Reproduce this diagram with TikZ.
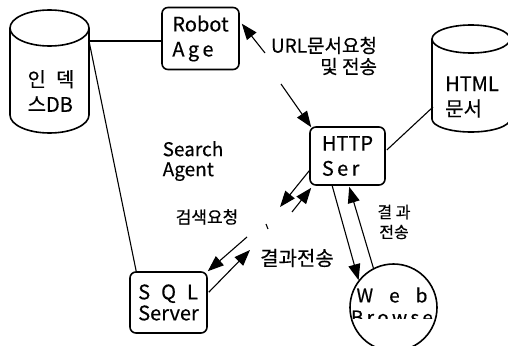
\documentclass[tikz,border=0pt]{standalone}
\usepackage{fontspec}
\setmainfont{Noto Sans CJK KR}[FakeBold=0.4]
\usetikzlibrary{arrows.meta, calc}

\tikzset{
  srvbox/.style={draw, line width=1.6pt, rounded corners=6pt, align=left, inner sep=2pt,
    font=\fontsize{20}{25}\selectfont, minimum width=77pt, minimum height=62pt},
  dbline/.style={line width=1.6pt},
  dbtext/.style={align=left, font=\fontsize{20}{25}\selectfont},
  conn/.style={line width=1.1pt},
  arr/.style={line width=1.1pt, -{Triangle[length=16pt,width=12pt]}},
  lbl/.style={inner sep=1pt}
}

\begin{document}
\begin{tikzpicture}[x=1pt,y=-1pt]
  \clip (0,0) rectangle (508,345);

  % index DB
  \draw[dbline] (10,28) -- (10,115) arc[start angle=180, end angle=0, x radius=39.5, y radius=18] -- (89,28);
  \draw[dbline] (49.5,28) ellipse [x radius=39.5, y radius=18];
  \node[dbtext] (indexdb) at (51,91) {인\hspace{10pt}덱\\스DB};
  \coordinate (dbjoint) at (89,41);

  % HTML documents
  \draw[dbline] (432,39) -- (432,119) arc[start angle=180, end angle=0, x radius=39, y radius=13] -- (510,39);
  \draw[dbline] (471,39) ellipse [x radius=39, y radius=14];
  \node[dbtext] (htmldoc) at (472,97) {HTML\\문서};
  \coordinate (htmljoint) at (433,107);

  % servers
  \node[srvbox] (robot) at (200.5,38.5) {Robot\\A\,g\,e};
  \node[srvbox, minimum width=75pt, minimum height=58pt] (http) at (347.5,156) {HTTP\\S\,e\,r};
  \node[srvbox, minimum height=61pt, font=\fontsize{20}{21}\selectfont] (sql) at (168.5,302.5) {S\hspace{11pt}Q\hspace{11pt}L\\Server};

  % web browser
  \node[draw, circle, line width=1.6pt, minimum size=87pt] (web) at (393.5,307.5) {};
  \begin{scope}
    \clip (340,260) rectangle (450,318);
    \node[align=center, font=\fontsize{19}{22}\selectfont] (webtxt) at (392,306) {W\hspace{16pt}e\hspace{16pt}b\\B\,r\,o\,w\,s\,e};
  \end{scope}

  % DB links
  \draw[conn] (dbjoint) -- (dbjoint -| robot.west);
  \draw[conn] (dbjoint) -- ($(sql.north west)+(7,0)$);
  \draw[conn] ($(http.east)+(1,-6)$) -- (htmljoint);

  % URL request
  \coordinate (urlA) at (265,53);
  \coordinate (urlB) at (281,84);
  \draw[arr] (urlA) -- ($(robot.north east)+(2,17)$);
  \draw[arr] (urlB) -- ($(http.north west)+(2,1)$);
  \node[lbl, align=right, font=\fontsize{19}{21}\selectfont] (urllbl) at (324,56) {URL문서요청\\및 전송};

  % search agent
  \node[lbl, align=left, font=\fontsize{19}{20}\selectfont] (agent) at (193,161) {Search\\Agent};
  \coordinate (qa) at (280,207);
  \coordinate (qb) at (247,237);
  \coordinate (ra) at (250,250);
  \coordinate (rb) at (292,212);
  \draw[arr] ($(http.south west)+(0,-15)$) -- (qa);
  \draw[arr] (qb) -- (sql.north east);
  \draw[arr] ($(sql.north east)+(1,21)$) -- (ra);
  \draw[arr] (rb) -- ($(http.south west)+(2,2)$);
  \draw[conn] (266,224) -- (268,229);
  \node[lbl, font=\fontsize{17}{20}\selectfont] (reqlbl) at (207,217) {검색요청};
  \node[lbl, font=\fontsize{20}{22}\selectfont] (reslbl) at (297,258) {결과전송};

  % browser result
  \draw[arr] ($(http.south west)+(23,0)$) -- (web.142);
  \draw[arr] (web.117) -- ($(http.south west)+(40,1)$);
  \node[lbl, align=center, font=\fontsize{16}{20}\selectfont] (webres) at (394,222) {결 과\\전송};
\end{tikzpicture}
\end{document}
